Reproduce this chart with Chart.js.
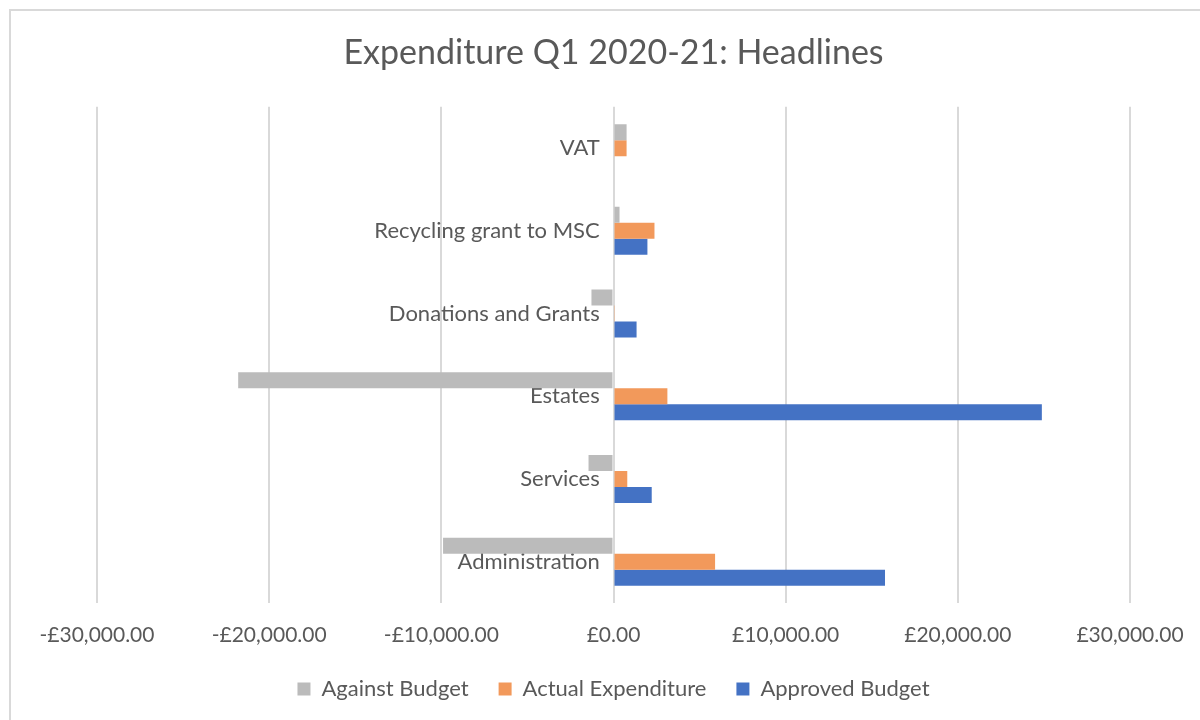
<!DOCTYPE html>
<html>
<head>
<meta charset="utf-8">
<script src="https://cdn.jsdelivr.net/npm/chart.js@4/dist/chart.umd.min.js"></script>
<style>
  body { margin: 0; overflow: hidden; background: #fff; }
  #wrap { position: relative; width: 1200px; height: 720px; overflow: hidden; }
  #frame { position: absolute; left: 9px; top: 9px; width: 1300px; height: 800px; border: 2px solid #d9d9d9; }
  canvas { position: absolute; left: 0; top: 0; }
</style>
</head>
<body>
<div id="wrap">
  <div id="frame"></div>
  <canvas id="expChart" width="1200" height="720"></canvas>
</div>
<script>
// Chart data
const categories = ['VAT', 'Recycling grant to MSC', 'Donations and Grants', 'Estates', 'Services', 'Administration'];
const againstBudget = [760, 350, -1280, -21800, -1450, -9900];
const actualExpenditure = [760, 2380, 40, 3130, 800, 5900];
const approvedBudget = [0, 1970, 1340, 24880, 2220, 15770];
const axisMin = -30000;
const axisMax = 30000;
const axisStep = 10000;

function formatPounds(v) {
    const s = '£' + Math.abs(v).toLocaleString('en-GB', { minimumFractionDigits: 2, maximumFractionDigits: 2 });
    return v < 0 ? '-' + s : s;
}

function createExpenditureChart() {
    const textColor = '#595959';
    const ctx = document.getElementById('expChart').getContext('2d');
    new Chart(ctx, {
        type: 'bar',
        data: {
            labels: categories,
            datasets: [
                { label: 'Against Budget', data: againstBudget, backgroundColor: '#BBBBBB' },
                { label: 'Actual Expenditure', data: actualExpenditure, backgroundColor: '#F2995B' },
                { label: 'Approved Budget', data: approvedBudget, backgroundColor: '#4472C4' }
            ]
        },
        options: {
            indexAxis: 'y',
            responsive: false,
            animation: false,
            layout: {
                padding: { left: 97, right: 70, top: 0, bottom: 10 }
            },
            datasets: {
                bar: { barPercentage: 1.0, categoryPercentage: 0.58 }
            },
            plugins: {
                title: {
                    display: true,
                    text: 'Expenditure Q1 2020-21: Headlines',
                    color: textColor,
                    font: { family: 'Lato', size: 34, weight: 'normal' },
                    padding: { top: 33, bottom: 33 }
                },
                legend: {
                    position: 'bottom',
                    labels: {
                        color: textColor,
                        font: { family: 'Lato', size: 22 },
                        boxWidth: 13,
                        boxHeight: 13,
                        padding: 30
                    }
                },
                tooltip: { enabled: false }
            },
            scales: {
                x: {
                    min: axisMin,
                    max: axisMax,
                    // fixed axis band; outer labels fit inside the layout padding
                    afterFit: scale => {
                        scale.height = 45;
                        scale.paddingLeft = 0;
                        scale.paddingRight = 0;
                    },
                    ticks: {
                        stepSize: axisStep,
                        color: textColor,
                        font: { family: 'Lato', size: 21 },
                        padding: 20,
                        callback: v => formatPounds(v)
                    },
                    grid: { color: '#d9d9d9', lineWidth: 2, drawTicks: false },
                    border: { display: false }
                },
                y: {
                    position: { x: 0 },
                    ticks: {
                        color: textColor,
                        font: { family: 'Lato', size: 22 },
                        // labels sit on the zero line, keep a small gap before it
                        callback: function (v) { return this.getLabelForValue(v) + '\u2002\u2009'; }
                    },
                    grid: { display: false, drawTicks: false },
                    border: { display: false }
                }
            }
        }
    });
}

document.addEventListener('DOMContentLoaded', () => {
    createExpenditureChart();
});
</script>
</body>
</html>
